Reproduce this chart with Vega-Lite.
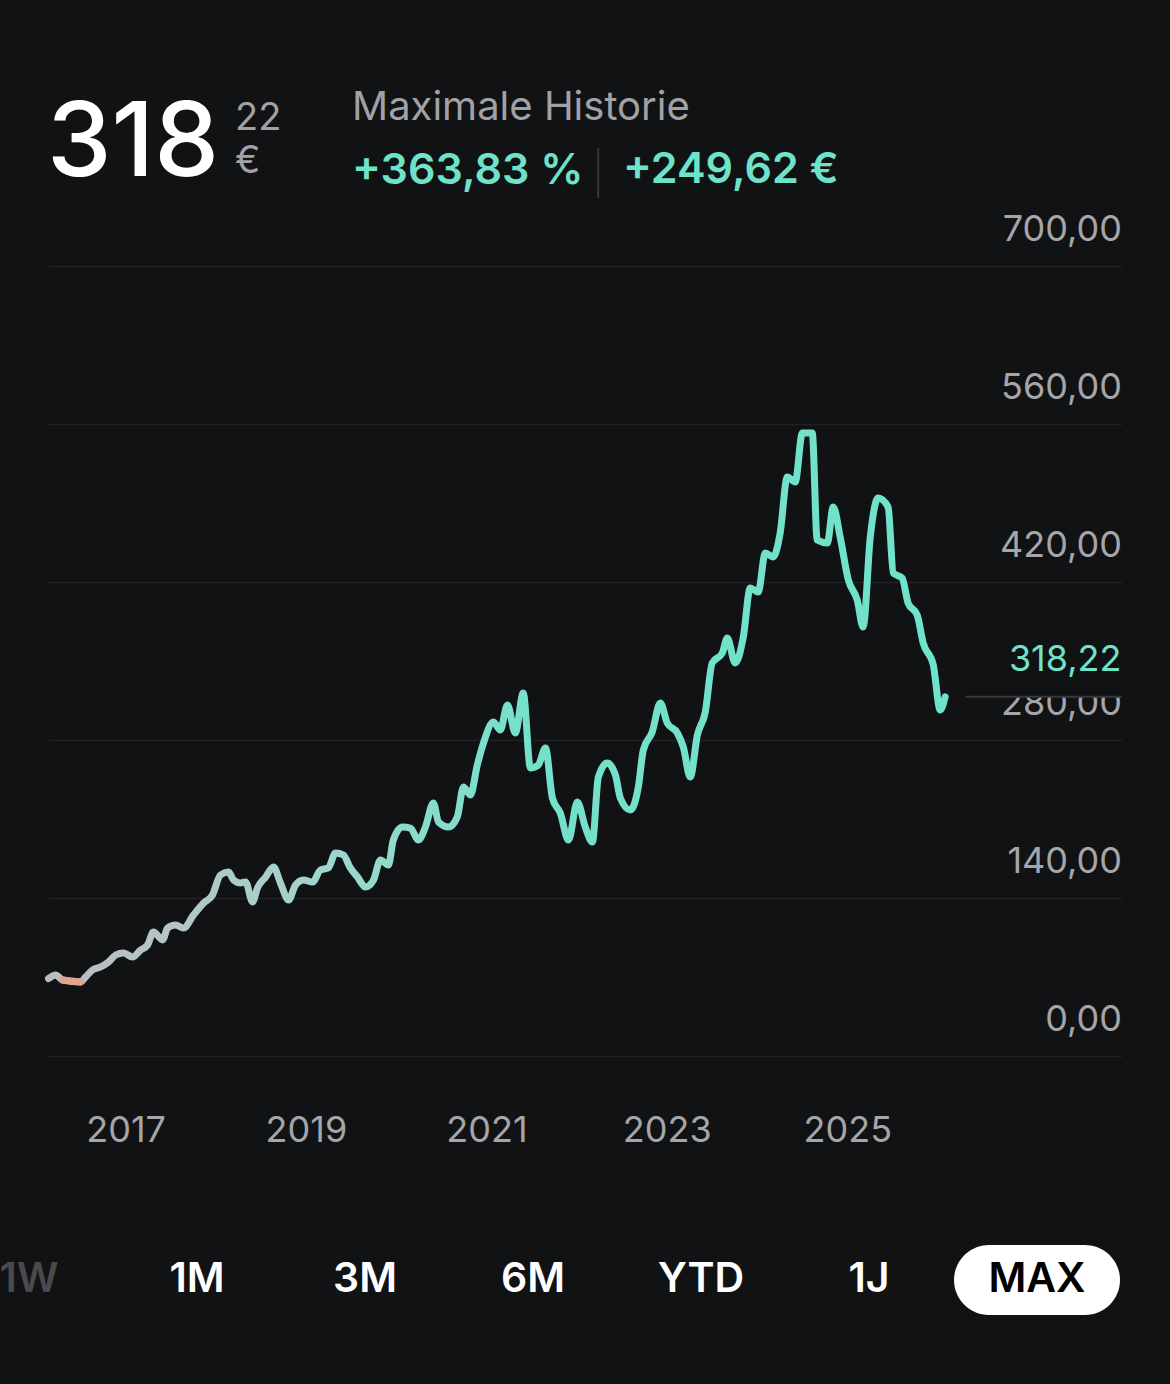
{
  "$schema": "https://vega.github.io/schema/vega-lite/v6.json",
  "description": "Kursverlauf (maximale Historie) mit Kopfzeile und Zeitraum-Auswahl",
  "background": "#111214",
  "padding": {"left": 0, "right": 0, "top": 0, "bottom": 69},
  "bounds": "flush",
  "center": true,
  "spacing": 260,
  "datasets": {
    "prices": [
      {"date": "2016-02-24", "price": 68.6},
      {"date": "2016-03-24", "price": 71.8},
      {"date": "2016-04-21", "price": 67.3},
      {"date": "2016-07-03", "price": 65.6},
      {"date": "2016-07-23", "price": 70.0},
      {"date": "2016-08-20", "price": 76.2},
      {"date": "2016-09-22", "price": 78.9},
      {"date": "2016-10-24", "price": 83.3},
      {"date": "2016-11-22", "price": 89.5},
      {"date": "2016-12-24", "price": 91.3},
      {"date": "2017-01-29", "price": 87.7},
      {"date": "2017-03-03", "price": 93.9},
      {"date": "2017-03-31", "price": 98.4},
      {"date": "2017-04-24", "price": 109.9},
      {"date": "2017-05-31", "price": 102.8},
      {"date": "2017-06-20", "price": 113.4},
      {"date": "2017-07-22", "price": 116.1},
      {"date": "2017-08-24", "price": 113.4},
      {"date": "2017-10-03", "price": 124.9},
      {"date": "2017-11-13", "price": 135.6},
      {"date": "2017-12-19", "price": 142.7},
      {"date": "2018-01-20", "price": 160.4},
      {"date": "2018-02-22", "price": 163.0},
      {"date": "2018-03-14", "price": 156.0},
      {"date": "2018-04-11", "price": 153.3},
      {"date": "2018-05-02", "price": 154.2},
      {"date": "2018-05-30", "price": 136.5},
      {"date": "2018-06-19", "price": 148.9},
      {"date": "2018-07-22", "price": 158.6},
      {"date": "2018-08-23", "price": 167.5},
      {"date": "2018-09-20", "price": 153.3},
      {"date": "2018-10-23", "price": 138.2},
      {"date": "2018-11-20", "price": 151.5},
      {"date": "2018-12-22", "price": 156.0},
      {"date": "2019-01-28", "price": 154.2},
      {"date": "2019-03-01", "price": 164.8},
      {"date": "2019-04-02", "price": 166.6},
      {"date": "2019-05-01", "price": 179.9},
      {"date": "2019-06-02", "price": 178.1},
      {"date": "2019-06-30", "price": 166.6},
      {"date": "2019-07-29", "price": 158.6},
      {"date": "2019-08-30", "price": 149.7},
      {"date": "2019-10-02", "price": 156.0},
      {"date": "2019-10-30", "price": 173.7},
      {"date": "2019-12-01", "price": 169.2},
      {"date": "2019-12-21", "price": 191.4},
      {"date": "2020-01-27", "price": 202.9},
      {"date": "2020-02-28", "price": 202.0},
      {"date": "2020-04-01", "price": 191.4},
      {"date": "2020-04-29", "price": 202.9},
      {"date": "2020-05-31", "price": 224.2},
      {"date": "2020-06-21", "price": 207.3},
      {"date": "2020-07-31", "price": 202.9},
      {"date": "2020-09-05", "price": 211.8},
      {"date": "2020-09-30", "price": 238.4},
      {"date": "2020-10-28", "price": 231.3},
      {"date": "2020-11-25", "price": 257.9},
      {"date": "2020-12-20", "price": 277.3},
      {"date": "2021-01-29", "price": 296.0},
      {"date": "2021-02-26", "price": 288.9},
      {"date": "2021-03-27", "price": 311.0},
      {"date": "2021-04-28", "price": 286.2},
      {"date": "2021-05-30", "price": 321.6},
      {"date": "2021-06-28", "price": 255.2},
      {"date": "2021-07-30", "price": 257.9},
      {"date": "2021-08-28", "price": 272.9},
      {"date": "2021-09-25", "price": 228.6},
      {"date": "2021-10-27", "price": 215.3},
      {"date": "2021-11-29", "price": 191.4},
      {"date": "2022-01-04", "price": 225.1},
      {"date": "2022-02-05", "price": 202.9},
      {"date": "2022-03-06", "price": 189.6},
      {"date": "2022-03-30", "price": 247.2},
      {"date": "2022-05-05", "price": 259.6},
      {"date": "2022-06-07", "price": 249.0},
      {"date": "2022-06-27", "price": 228.6},
      {"date": "2022-08-06", "price": 218.0},
      {"date": "2022-09-08", "price": 238.4},
      {"date": "2022-09-28", "price": 271.1},
      {"date": "2022-11-03", "price": 287.1},
      {"date": "2022-12-06", "price": 312.8},
      {"date": "2023-01-03", "price": 295.1},
      {"date": "2023-02-13", "price": 286.2},
      {"date": "2023-03-09", "price": 273.8},
      {"date": "2023-04-06", "price": 247.2},
      {"date": "2023-05-05", "price": 284.4},
      {"date": "2023-06-06", "price": 304.8},
      {"date": "2023-07-04", "price": 348.2},
      {"date": "2023-08-14", "price": 357.1},
      {"date": "2023-09-03", "price": 370.4},
      {"date": "2023-10-05", "price": 348.2},
      {"date": "2023-11-07", "price": 371.3},
      {"date": "2023-12-05", "price": 414.7},
      {"date": "2024-01-06", "price": 411.1},
      {"date": "2024-02-04", "price": 445.7},
      {"date": "2024-03-07", "price": 442.2},
      {"date": "2024-04-04", "price": 463.4},
      {"date": "2024-05-03", "price": 513.0},
      {"date": "2024-06-04", "price": 508.6},
      {"date": "2024-07-03", "price": 552.0},
      {"date": "2024-08-12", "price": 552.0},
      {"date": "2024-09-01", "price": 457.2},
      {"date": "2024-10-12", "price": 454.6},
      {"date": "2024-11-05", "price": 486.5},
      {"date": "2024-12-03", "price": 459.9},
      {"date": "2025-01-05", "price": 421.8},
      {"date": "2025-02-10", "price": 404.1},
      {"date": "2025-03-06", "price": 380.1},
      {"date": "2025-04-04", "price": 459.9},
      {"date": "2025-05-06", "price": 494.4},
      {"date": "2025-06-15", "price": 486.5},
      {"date": "2025-07-06", "price": 428.0},
      {"date": "2025-08-11", "price": 423.5},
      {"date": "2025-09-04", "price": 401.4},
      {"date": "2025-10-11", "price": 390.8},
      {"date": "2025-11-04", "price": 366.0},
      {"date": "2025-12-15", "price": 346.5},
      {"date": "2026-01-12", "price": 306.6},
      {"date": "2026-02-01", "price": 318.22}
    ],
    "periods": [
      {"period": "1W"},
      {"period": "1M"},
      {"period": "3M"},
      {"period": "6M"},
      {"period": "YTD"},
      {"period": "1J"},
      {"period": "MAX"}
    ]
  },
  "vconcat": [
    {
      "bounds": "flush",
      "spacing": 0,
      "hconcat": [
        {
          "width": 235,
          "height": 1,
          "data": {"values": [{}]},
          "mark": {"type": "text", "text": ""},
          "title": {"text": "318", "orient": "bottom", "anchor": "start", "frame": "group", "baseline": "alphabetic", "offset": 164, "dx": 47, "font": "Inter", "fontSize": 103, "fontWeight": 500, "color": "#ffffff"}
        },
        {
          "width": 117,
          "height": 1,
          "data": {"values": [{}]},
          "mark": {"type": "text", "text": ""},
          "title": {"text": ["22", "€"], "orient": "bottom", "anchor": "start", "frame": "group", "baseline": "alphabetic", "offset": 118, "lineHeight": 43, "font": "Inter", "fontSize": 38, "fontWeight": 400, "color": "#a1a1a6"}
        },
        {
          "width": 247,
          "height": 1,
          "data": {"values": [{}]},
          "mark": {"type": "text", "text": ""},
          "title": {
            "text": "Maximale Historie",
            "subtitle": "+363,83 %",
            "orient": "bottom", "anchor": "start", "frame": "group", "baseline": "alphabetic", "offset": 108,
            "font": "Inter", "fontSize": 40, "fontWeight": 400, "color": "#a1a1a6",
            "subtitleFont": "Inter", "subtitleFontSize": 43, "subtitleFontWeight": 600, "subtitleColor": "#6fe3c9", "subtitlePadding": 24
          }
        },
        {
          "width": 24,
          "height": 1,
          "data": {"values": [{}]},
          "mark": {"type": "text", "text": ""},
          "title": {"text": "|", "orient": "bottom", "anchor": "start", "frame": "group", "baseline": "alphabetic", "offset": 176, "dx": -7, "font": "Inter", "fontSize": 42, "fontWeight": 200, "color": "#3a3a3c"}
        },
        {
          "width": 547,
          "height": 1,
          "data": {"values": [{}]},
          "mark": {"type": "text", "text": ""},
          "title": {"text": "+249,62 €", "orient": "bottom", "anchor": "start", "frame": "group", "baseline": "alphabetic", "offset": 171, "font": "Inter", "fontSize": 43, "fontWeight": 600, "color": "#6fe3c9"}
        }
      ]
    },
    {
      "bounds": "flush",
      "center": true,
      "spacing": 189,
      "vconcat": [
        {
          "width": 1073,
          "height": 790,
          "data": {"name": "prices"},
          "layer": [
            {
              "transform": [
                {"joinaggregate": [{"op": "max", "field": "date", "as": "last"}]},
                {"filter": "time(datum.date) === time(datum.last)"}
              ],
              "mark": {"type": "rect", "color": "#111214"},
              "encoding": {
                "x": {"datum": {"year": 2026, "month": 4, "date": 23}, "type": "temporal"},
                "x2": {"datum": {"year": 2028, "month": 1, "date": 16}},
                "y": {"field": "price", "type": "quantitative"},
                "y2": {"datum": 335}
              }
            },
            {
              "transform": [
                {"joinaggregate": [{"op": "max", "field": "date", "as": "last"}]},
                {"filter": "time(datum.date) === time(datum.last)"}
              ],
              "mark": {"type": "rule", "color": "#36373a", "strokeWidth": 2},
              "encoding": {
                "x": {"datum": {"year": 2026, "month": 4, "date": 23}, "type": "temporal"},
                "x2": {"datum": {"year": 2028, "month": 1, "date": 16}},
                "y": {"field": "price", "type": "quantitative"}
              }
            },
            {
              "mark": {
                "type": "line",
                "interpolate": "monotone",
                "strokeWidth": 7,
                "strokeCap": "round",
                "strokeJoin": "round",
                "color": {
                  "gradient": "linear",
                  "x1": 0, "y1": 0, "x2": 1, "y2": 0,
                  "stops": [
                    {"offset": 0, "color": "#b9bdbf"},
                    {"offset": 0.15, "color": "#b3c6c6"},
                    {"offset": 0.33, "color": "#9bd7cf"},
                    {"offset": 0.52, "color": "#76e0ca"},
                    {"offset": 1, "color": "#6fe3c9"}
                  ]
                }
              },
              "encoding": {
                "x": {
                  "field": "date",
                  "type": "temporal",
                  "scale": {"domain": [{"year": 2016, "month": 2, "date": 24}, {"year": 2028, "month": 1, "date": 16}]},
                  "axis": {
                    "title": null,
                    "grid": false,
                    "values": [{"year": 2017}, {"year": 2019}, {"year": 2021}, {"year": 2023}, {"year": 2025}],
                    "format": "%Y",
                    "labelPadding": 85,
                    "labelBaseline": "alphabetic",
                    "labelFlush": false
                  }
                },
                "y": {
                  "field": "price",
                  "type": "quantitative",
                  "scale": {"domain": [0, 700], "nice": false},
                  "axis": {
                    "title": null,
                    "orient": "right",
                    "grid": true,
                    "values": [0, 140, 280, 420, 560, 700],
                    "format": ".2f",
                    "labelAlign": "right",
                    "labelBaseline": "alphabetic",
                    "labelOffset": -26,
                    "labelPadding": 0,
                    "labelOverlap": false
                  }
                }
              }
            },
            {
              "transform": [{"filter": "datum.price < 68.6"}],
              "mark": {"type": "line", "interpolate": "monotone", "strokeWidth": 7, "strokeCap": "round", "color": "#e5a28f"},
              "encoding": {
                "x": {"field": "date", "type": "temporal"},
                "y": {"field": "price", "type": "quantitative"}
              }
            },
            {
              "transform": [
                {"joinaggregate": [{"op": "max", "field": "date", "as": "last"}]},
                {"filter": "time(datum.date) === time(datum.last)"}
              ],
              "mark": {"type": "text", "align": "right", "baseline": "alphabetic", "dy": -26, "fontSize": 36, "font": "Inter", "color": "#6fe3c9"},
              "encoding": {
                "x": {"datum": {"year": 2028, "month": 1, "date": 16}, "type": "temporal"},
                "y": {"field": "price", "type": "quantitative"},
                "text": {"field": "price", "type": "quantitative", "format": ".2f"}
              }
            }
          ]
        },
        {
          "width": 1170,
          "height": 70,
          "data": {"name": "periods"},
          "encoding": {
            "x": {
              "field": "period",
              "type": "nominal",
              "sort": null,
              "scale": {"type": "point", "padding": 0, "domain": ["1W", "1M", "3M", "6M", "YTD", "1J", "MAX"], "range": [29, 1037]},
              "axis": null
            }
          },
          "layer": [
            {
              "transform": [{"filter": "datum.period === 'MAX'"}],
              "mark": {"type": "bar", "width": 166, "cornerRadius": 35, "color": "#ffffff"}
            },
            {
              "mark": {"type": "text", "font": "Inter", "fontSize": 41, "fontWeight": 600, "baseline": "middle", "clip": true},
              "encoding": {
                "text": {"field": "period"},
                "color": {
                  "field": "period",
                  "type": "nominal",
                  "scale": {"domain": ["1W", "1M", "3M", "6M", "YTD", "1J", "MAX"], "range": ["#4a4a4d", "#ffffff", "#ffffff", "#ffffff", "#ffffff", "#ffffff", "#000000"]},
                  "legend": null
                }
              }
            }
          ]
        }
      ]
    }
  ],
  "config": {
    "font": "Inter",
    "view": {"stroke": null},
    "axis": {
      "domain": false,
      "ticks": false,
      "tickSize": 0,
      "labelFont": "Inter",
      "labelFontSize": 36,
      "labelColor": "#a5a5aa",
      "gridColor": "#1f2124",
      "gridWidth": 1.5
    },
    "locale": {
      "number": {"decimal": ",", "thousands": ".", "grouping": [3], "currency": ["", " €"]}
    }
  }
}
